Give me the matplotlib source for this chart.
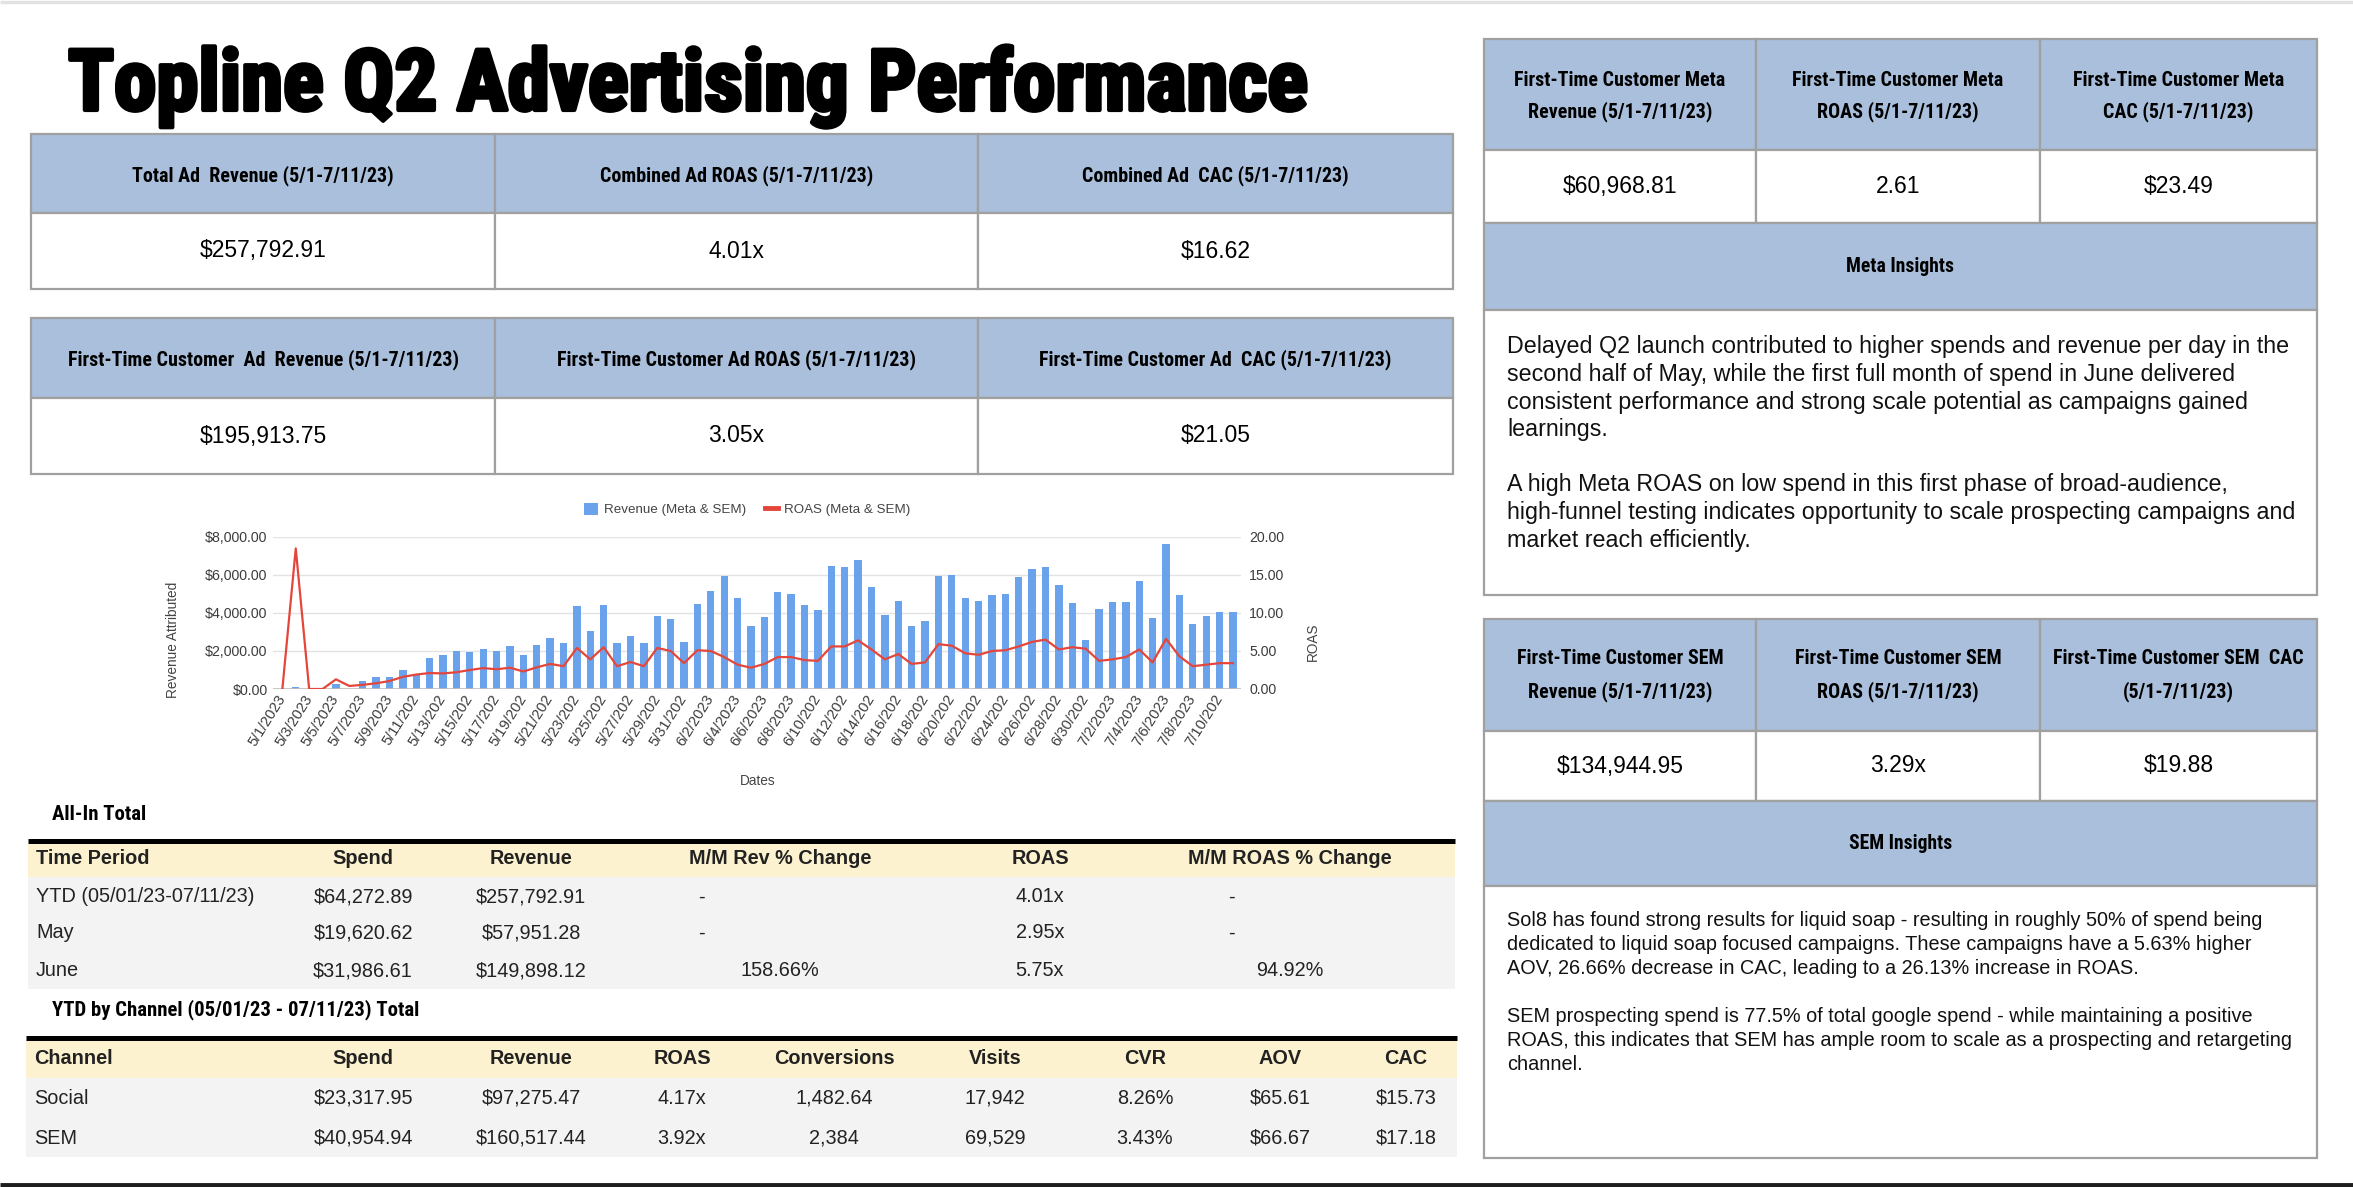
import matplotlib
matplotlib.use('Agg')
import matplotlib.pyplot as plt
import matplotlib.patheffects as pe
import pandas as pd
from matplotlib import font_manager as fm
from matplotlib.patches import Rectangle, Patch
from matplotlib.lines import Line2D
from matplotlib.ticker import FuncFormatter

# ---------------- data ----------------
dates = pd.date_range('2023-05-01', '2023-07-11', freq='D')

# daily revenue attributed (Meta & SEM)
revenue = [0, 120, 0, 0, 245, 0, 440, 615, 615, 980,
           740, 1630, 1770, 2000, 1950, 2120, 2020, 2250, 1790, 2330,
           2680, 2400, 4350, 3070, 4420, 2400, 2810, 2400, 3860, 3680,
           2470, 4490, 5160, 5960, 4790, 3330, 3810, 5090, 5020, 4400,
           4160, 6490, 6440, 6790, 5390, 3880, 4650, 3320, 3560, 5950,
           6020, 4770, 4650, 4960, 5020, 5880, 6300, 6440, 5460, 4530,
           2580, 4210, 4580, 4580, 5680, 3720, 7630, 4960, 3420, 3840,
           4040, 4040]

# daily ROAS (Meta & SEM)
roas = [0, 18.5, 0, 0, 1.27, 0.4, 0.55, 0.75, 1.05, 1.6,
        1.9, 2.1, 2.05, 2.2, 2.5, 2.75, 2.6, 2.8, 2.3, 2.85,
        3.3, 3.0, 5.4, 3.9, 5.5, 3.0, 3.55, 3.0, 5.4, 5.0,
        3.4, 5.1, 5.0, 4.2, 3.2, 2.8, 3.3, 4.2, 4.2, 3.8,
        3.7, 5.6, 5.6, 6.4, 5.2, 3.9, 4.6, 3.3, 3.5, 5.9,
        5.7, 4.7, 4.5, 5.0, 5.1, 5.6, 6.2, 6.5, 5.2, 5.5,
        5.3, 3.7, 3.9, 4.2, 5.2, 3.5, 6.6, 4.3, 3.0, 3.2,
        3.4, 3.4]

title = 'Topline Q2 Advertising Performance'

kpi_headers_1 = ['Total Ad  Revenue (5/1-7/11/23)', 'Combined Ad ROAS (5/1-7/11/23)',
                 'Combined Ad  CAC (5/1-7/11/23)']
kpi_values_1 = ['$257,792.91', '4.01x', '$16.62']
kpi_headers_2 = ['First-Time Customer  Ad  Revenue (5/1-7/11/23)',
                 'First-Time Customer Ad ROAS (5/1-7/11/23)',
                 'First-Time Customer Ad  CAC (5/1-7/11/23)']
kpi_values_2 = ['$195,913.75', '3.05x', '$21.05']

meta_headers = [['First-Time Customer Meta', 'Revenue (5/1-7/11/23)'],
                ['First-Time Customer Meta', 'ROAS (5/1-7/11/23)'],
                ['First-Time Customer Meta', 'CAC (5/1-7/11/23)']]
meta_values = ['$60,968.81', '2.61', '$23.49']
meta_text = ['Delayed Q2 launch contributed to higher spends and revenue per day in the',
             'second half of May, while the first full month of spend in June delivered',
             'consistent performance and strong scale potential as campaigns gained',
             'learnings.',
             '',
             'A high Meta ROAS on low spend in this first phase of broad-audience,',
             'high-funnel testing indicates opportunity to scale prospecting campaigns and',
             'market reach efficiently.']

sem_headers = [['First-Time Customer SEM', 'Revenue (5/1-7/11/23)'],
               ['First-Time Customer SEM', 'ROAS (5/1-7/11/23)'],
               ['First-Time Customer SEM  CAC', '(5/1-7/11/23)']]
sem_values = ['$134,944.95', '3.29x', '$19.88']
sem_text = ['Sol8 has found strong results for liquid soap - resulting in roughly 50% of spend being',
            'dedicated to liquid soap focused campaigns. These campaigns have a 5.63% higher',
            'AOV, 26.66% decrease in CAC, leading to a 26.13% increase in ROAS.',
            '',
            'SEM prospecting spend is 77.5% of total google spend - while maintaining a positive',
            'ROAS, this indicates that SEM has ample room to scale as a prospecting and retargeting',
            'channel.']

allin_cols = ['Time Period', 'Spend', 'Revenue', 'M/M Rev % Change', 'ROAS', 'M/M ROAS % Change']
allin_rows = [['YTD (05/01/23-07/11/23)', '$64,272.89', '$257,792.91', '-', '4.01x', '-'],
              ['May', '$19,620.62', '$57,951.28', '-', '2.95x', '-'],
              ['June', '$31,986.61', '$149,898.12', '158.66%', '5.75x', '94.92%']]

channel_cols = ['Channel', 'Spend', 'Revenue', 'ROAS', 'Conversions', 'Visits', 'CVR', 'AOV', 'CAC']
channel_rows = [['Social', '$23,317.95', '$97,275.47', '4.17x', '1,482.64', '17,942', '8.26%', '$65.61', '$15.73'],
                ['SEM', '$40,954.94', '$160,517.44', '3.92x', '2,384', '69,529', '3.43%', '$66.67', '$17.18']]

# ---------------- fonts ----------------
names = {f.name for f in fm.fontManager.ttflist}
COND = next(n for n in ['Liberation Sans Narrow', 'Roboto Condensed', 'Open Sans Condensed', 'DejaVu Sans']
            if n in names or n == 'DejaVu Sans')
SANS = 'Liberation Sans' if 'Liberation Sans' in names else 'DejaVu Sans'
plt.rcParams['font.family'] = [SANS, 'DejaVu Sans']

BLUE = '#a9bfdb'
CREAM = '#fdf2cf'
GREY = '#f3f3f3'
EDGE = '#a0a0a0'
BAR = '#6aa3ec'
RED = '#e4463b'

W, H = 2353, 1187
fig = plt.figure(figsize=(W / 100, H / 100), dpi=100)
ax0 = fig.add_axes([0, 0, 1, 1])
ax0.set_xlim(0, W)
ax0.set_ylim(H, 0)
ax0.axis('off')
renderer = fig.canvas.get_renderer()


def size_for(txt, target, **kw):
    # font size that makes txt about target pixels wide
    t = ax0.text(0, 0, txt, fontsize=20, **kw)
    w = t.get_window_extent(renderer).width
    t.remove()
    return 20 * target / w


cond_kw = dict(family=[COND, 'DejaVu Sans'], weight='bold', fontstretch='condensed')


def cell(x0, y0, x1, y1, fc):
    ax0.add_patch(Rectangle((x0, y0), x1 - x0, y1 - y0, facecolor=fc,
                            edgecolor=EDGE, linewidth=1.6, zorder=1))


# frame lines of the screenshot
ax0.plot([0, W], [1.5, 1.5], color='#e2e2e2', lw=2.5, solid_capstyle='butt')
ax0.plot([0, W], [1185, 1185], color='#1e1e1e', lw=3.5, solid_capstyle='butt')

# title
ts = size_for(title, 1236, **cond_kw)
ax0.text(68, 110, title, fontsize=ts, va='baseline', ha='left', color='black',
         path_effects=[pe.withStroke(linewidth=3, foreground='black')], **cond_kw)

# the sheet's header font is narrower than anything installed: trade a bit of width for height
hdr_size = size_for('First-Time Customer Meta', 200, **cond_kw) * 1.05
val_size = size_for('$257,792.91', 127)

# ---- top-left KPI tables ----
kx = [31, 495, 978, 1453]
for heads, vals, (y0, ym, y1) in [(kpi_headers_1, kpi_values_1, (134, 213, 289)),
                                  (kpi_headers_2, kpi_values_2, (318, 398, 474))]:
    for i in range(3):
        cell(kx[i], y0, kx[i + 1], ym, BLUE)
        cell(kx[i], ym, kx[i + 1], y1, 'white')
        cx = (kx[i] + kx[i + 1]) / 2
        ax0.text(cx, (y0 + ym) / 2 + 2, heads[i], fontsize=hdr_size, ha='center', va='center', **cond_kw)
        ax0.text(cx, (ym + y1) / 2, vals[i], fontsize=val_size, ha='center', va='center')

# ---- right panels ----
rx = [1484, 1756, 2040, 2317]
ins_size = size_for('Meta Insights', 104, **cond_kw) * 1.03
meta_size = size_for(meta_text[0], 777)
sem_size = size_for(sem_text[0], 750)
for heads, vals, ins, lines, ys, hl, tsz, ty, tdy in [
        (meta_headers, meta_values, 'Meta Insights', meta_text, (39, 150, 223, 310, 595), (80, 112),
         meta_size, 347, 27.6),
        (sem_headers, sem_values, 'SEM Insights', sem_text, (619, 731, 801, 886, 1158), (659, 692),
         sem_size, 921, 24.0)]:
    y0, y1, y2, y3, y4 = ys
    for i in range(3):
        cell(rx[i], y0, rx[i + 1], y1, BLUE)
        cell(rx[i], y1, rx[i + 1], y2, 'white')
        cx = (rx[i] + rx[i + 1]) / 2
        for j, line in enumerate(heads[i]):
            ax0.text(cx, hl[j], line, fontsize=hdr_size, ha='center', va='center', **cond_kw)
        ax0.text(cx, (y1 + y2) / 2, vals[i], fontsize=val_size, ha='center', va='center')
    cell(rx[0], y2, rx[3], y3, BLUE)
    ax0.text((rx[0] + rx[3]) / 2, (y2 + y3) / 2, ins, fontsize=ins_size, ha='center', va='center', **cond_kw)
    cell(rx[0], y3, rx[3], y4, 'white')
    for k, line in enumerate(lines):
        if line:
            ax0.text(1507, ty + k * tdy, line, fontsize=tsz, ha='left', va='center', color='#111111')

# ---- bottom-left tables ----
sec_size = size_for('YTD by Channel (05/01/23 - 07/11/23) Total', 367, **cond_kw)
tab_size = size_for('YTD (05/01/23-07/11/23)', 219)

ax0.text(52, 815, 'All-In Total', fontsize=sec_size, ha='left', va='center', **cond_kw)
ax0.add_patch(Rectangle((28, 843), 1427, 34, facecolor=CREAM, edgecolor='none'))
ax0.add_patch(Rectangle((28, 877), 1427, 112, facecolor=GREY, edgecolor='none'))
ax0.plot([28, 1455], [841, 841], color='black', lw=3.6, solid_capstyle='butt')
allin_x = [36, 363, 531, 780, 1040, 1290]
dash_x = {3: 701, 5: 1231}
for c, name in enumerate(allin_cols):
    ax0.text(allin_x[c], 859, name, fontsize=tab_size, weight='bold', color='#222222',
             ha='left' if c == 0 else 'center', va='center')
for r, row in enumerate(allin_rows):
    y = [897, 933, 971][r]
    for c, v in enumerate(row):
        x = dash_x[c] if v == '-' else allin_x[c]
        ax0.text(x, y, v, fontsize=tab_size, color='#222222',
                 ha='left' if c == 0 else 'center', va='center')

ax0.text(52, 1010, 'YTD by Channel (05/01/23 - 07/11/23) Total', fontsize=sec_size,
         ha='left', va='center', **cond_kw)
ax0.add_patch(Rectangle((26, 1040), 1431, 38, facecolor=CREAM, edgecolor='none'))
ax0.add_patch(Rectangle((26, 1078), 1431, 79, facecolor=GREY, edgecolor='none'))
ax0.plot([26, 1457], [1038, 1038], color='black', lw=3.6, solid_capstyle='butt')
chan_x = [34, 363, 531, 682, 834, 995, 1145, 1280, 1406]
for c, name in enumerate(channel_cols):
    ax0.text(chan_x[c], 1059, name, fontsize=tab_size, weight='bold', color='#222222',
             ha='left' if c == 0 else 'center', va='center')
for r, row in enumerate(channel_rows):
    y = [1098, 1138][r]
    for c, v in enumerate(row):
        ax0.text(chan_x[c], y, v, fontsize=tab_size, color='#222222',
                 ha='left' if c == 0 else 'center', va='center')

# ---------------- combo chart ----------------
pl, pr, pt, pb = 273, 1241, 537, 689
ax = fig.add_axes([pl / W, 1 - pb / H, (pr - pl) / W, (pb - pt) / H])
x = list(range(len(dates)))
ax.bar(x, revenue, width=0.55, color=BAR, zorder=2)
ax.set_ylim(0, 8000)
ax.set_xlim(-0.7, len(dates) - 0.4)
ax.set_yticks([0, 2000, 4000, 6000, 8000])
ax.yaxis.set_major_formatter(FuncFormatter(lambda v, p: f'${v:,.2f}'))
ax.grid(axis='y', color='#e3e3e3', lw=1.0, zorder=0)
ax.set_axisbelow(True)
for s in ax.spines.values():
    s.set_visible(False)
ax.axhline(0, color='#bdbdbd', lw=1.2, zorder=3)
ax.tick_params(axis='y', length=0, pad=4, labelsize=10.2, labelcolor='#3c3c3c')
ax.tick_params(axis='x', length=0, pad=5, labelsize=10.6, labelcolor='#3c3c3c')
ax.set_xticks(x[::2])
ax.set_xticklabels([f'{d.month}/{d.day}/{d.year}'[:8] for d in dates[::2]],
                   rotation=58, ha='right', va='center', rotation_mode='anchor')
ax.set_ylabel('Revenue Attributed', fontsize=9.8, color='#444444')
ax.yaxis.set_label_coords(-0.096, 0.32)
ax.set_xlabel('Dates', fontsize=9.8, color='#444444')
ax.xaxis.set_label_coords(0.501, -0.56)

ax2 = ax.twinx()
ax2.plot(x, roas, color=RED, lw=1.6, zorder=4)
ax2.set_ylim(0, 20)
ax2.set_yticks([0, 5, 10, 15, 20])
ax2.yaxis.set_major_formatter(FuncFormatter(lambda v, p: f'{v:.2f}'))
ax2.tick_params(axis='y', length=0, pad=6, labelsize=10.2, labelcolor='#3c3c3c')
for s in ax2.spines.values():
    s.set_visible(False)
ax2.set_ylabel('ROAS', fontsize=9.8, color='#444444')
ax2.yaxis.set_label_coords(1.067, 0.31)

handles = [Patch(facecolor=BAR, edgecolor='none'),
           Line2D([0], [0], color=RED, lw=3.5)]
ax.legend(handles, ['Revenue (Meta & SEM)', 'ROAS (Meta & SEM)'], loc='center',
          bbox_to_anchor=(0.49, 1.18), ncol=2, frameon=False, fontsize=9.6,
          handlelength=1.0, handleheight=1.0, handletextpad=0.45, columnspacing=1.4,
          labelcolor='#444444')

fig.savefig('out.png', dpi=100, facecolor='white')
